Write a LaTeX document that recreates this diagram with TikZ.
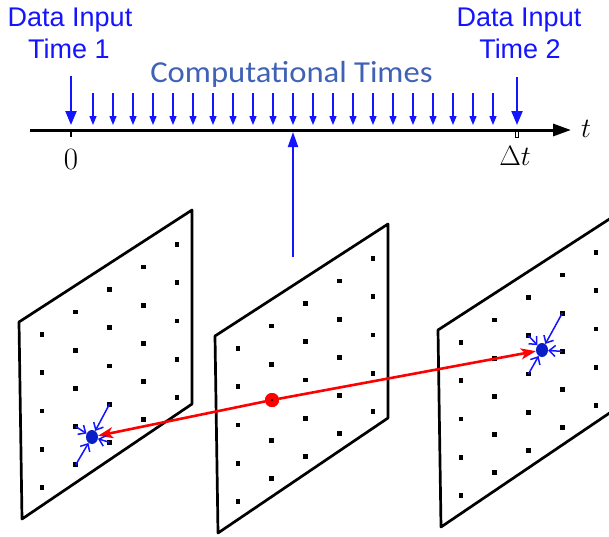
\documentclass[tikz,border=0pt]{standalone}
\usepackage{fix-cm}
\usepackage{fontspec}
\newfontfamily\lsans{Liberation Sans}
\newfontfamily\carl{Carlito}
\usetikzlibrary{arrows.meta,shapes.geometric}
\definecolor{dblue}{RGB}{20,20,255}
\definecolor{cblue}{RGB}{64,98,181}
\definecolor{blobc}{RGB}{10,30,200}
\newcommand\mypanel[3]{%
  \draw[panelline] (#2,#3) -- ++(173,-112) -- ++(0,194) -- ++(-170,115) -- cycle;
  \foreach \c in {0,...,4}{\foreach \r in {0,...,4}{%
    \coordinate (#1-\c-\r) at ({#2+23+33.75*\c},{#3+12.5+38.2*\r-22.5*\c});
    \fill (#1-\c-\r) ++(-2.4,-2.4) rectangle ++(4.8,4.8);
  }}%
}
\begin{document}
\begin{tikzpicture}[x=1pt,y=-1pt,
  lbl/.style={font=\lsans\fontsize{27}{32}\selectfont, text=dblue, inner sep=0, anchor=base},
  mathlbl/.style={font=\fontsize{28}{28}\selectfont, inner sep=0, anchor=base},
  smallarr/.style={draw=dblue, line width=1.2pt, -{Triangle[length=9pt,width=7pt]}},
  bigarr/.style={draw=dblue, line width=2.2pt, -{Triangle[length=14pt,width=11pt]}},
  panelline/.style={draw, line width=2.7pt, line join=round},
  blob/.style={ellipse, fill=blobc, inner sep=0, minimum width=12pt, minimum height=14pt},
  reddot/.style={circle, fill=red, inner sep=0, minimum size=14pt},
  redarr/.style={draw=red, line width=2.6pt, -{Stealth[length=15pt,width=11pt,inset=4pt]}},
  interp/.style={draw=dblue, line width=1.5pt, -{Straight Barb[length=6pt,width=11pt]}}
]
\useasboundingbox (0,0) rectangle (609,536);
\clip (0,0) rectangle (609,536);
% labels
\node[lbl] (a1) at (70,26) {Data Input};
\node[lbl] (a2) at (69,58) {Time 1};
\node[lbl] (b1) at (519,26) {Data Input};
\node[lbl] (b2) at (520,58) {Time 2};
\node[inner sep=0, anchor=base, text=cblue, font=\carl\fontsize{30.5}{30}\selectfont] (comp) at (291.5,82) {\scalebox{1.07}[1]{Computational Times}};
% axis
\coordinate (ax0) at (30,130);
\coordinate (ax1) at (571,130);
\draw[line width=3pt, -{Triangle[length=18pt,width=12pt]}] (ax0) -- (ax1);
\node[mathlbl] (t) at (586,137) {$t$};
\node[mathlbl, font=\fontsize{31}{31}\selectfont] (zero) at (71,169) {$0$};
\node[mathlbl] (dt) at (515,165) {$\Delta t$};
\draw[line width=2pt] (71,130) -- (71,137);
\draw[fill=white, line width=0.8pt] (515.5,131.5) rectangle (518.5,137);
% arrows on the axis
\coordinate (s0) at (71,76);
\coordinate (e0) at (71,125);
\coordinate (s1) at (517,77);
\coordinate (e1) at (517,125);
\draw[bigarr] (s0) -- (e0);
\draw[bigarr] (s1) -- (e1);
\foreach \k in {0,...,20}{
  \coordinate (cs\k) at ({93+20*\k},93);
  \coordinate (ce\k) at ({93+20*\k},125);
  \draw[smallarr] (cs\k) -- (ce\k);
}
\coordinate (vs) at (293,257);
\coordinate (ve) at (293,132);
\draw[bigarr, line width=2pt, -{Triangle[length=15pt,width=10pt]}] (vs) -- (ve);
% panels
\mypanel{p1}{19}{322}
\mypanel{p2}{215}{336}
\mypanel{p3}{438}{330}
% points
\node[blob] (bl1) at (92,437) {};
\node[blob] (bl3) at (542,350) {};
\node[reddot] (rd) at (272,400) {};
\draw[redarr] (rd) -- (bl1);
\draw[redarr] (rd) -- (bl3);
\node[reddot] (rd2) at (272,400) {};
\fill (rd2.center) circle (1.2);
\foreach \a in {p1-2-3,p1-1-3,p1-2-4,p1-1-4}{\draw[interp] (\a) -- (bl1);}
\foreach \a in {p3-3-1,p3-2-1,p3-3-2,p3-2-2}{\draw[interp] (\a) -- (bl3);}
\end{tikzpicture}
\end{document}
